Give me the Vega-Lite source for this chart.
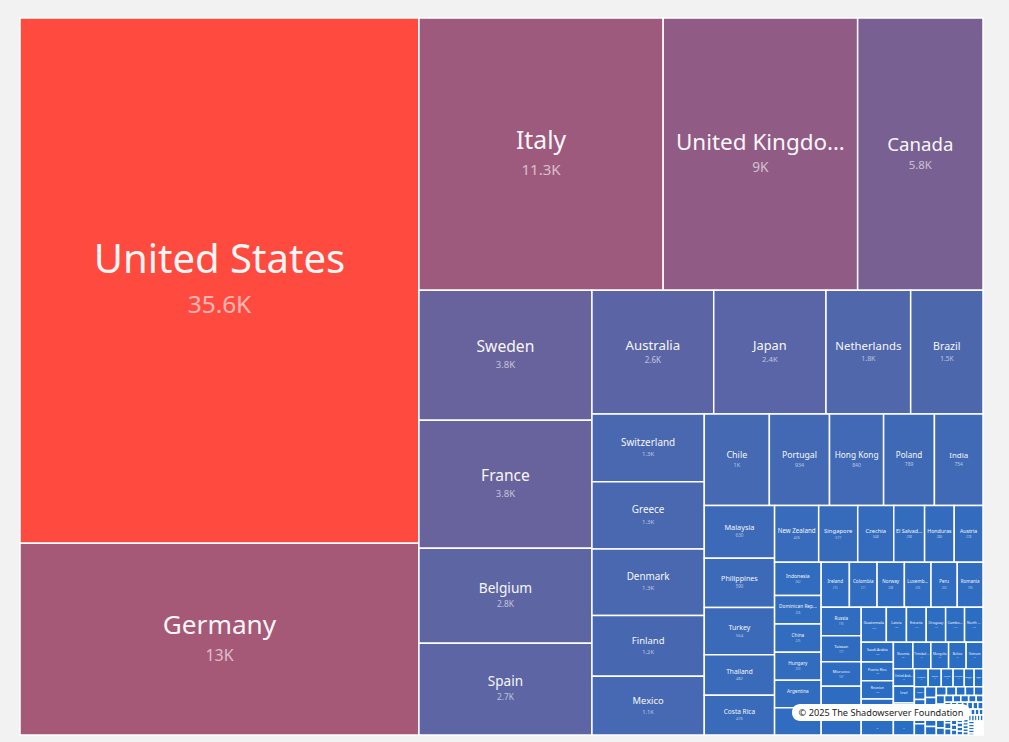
{
  "$schema": "https://vega.github.io/schema/vega-lite/v6.json",
  "width": 963,
  "height": 717,
  "autosize": {"type": "none"},
  "padding": {"left": 20, "top": 18, "right": 26, "bottom": 7},
  "background": "#f2f2f2",
  "config": {"view": {"stroke": null}, "font": "Noto Sans"},
  "layer": [
    {
      "data": {"values": [
        {"country": "United States", "value": 35600, "strip": 1, "dir": "col"},
        {"country": "Germany", "value": 13000, "strip": 1, "dir": "col"},
        {"country": "Italy", "value": 11300, "strip": 2, "dir": "row"},
        {"country": "United Kingdom", "value": 9000, "strip": 2, "dir": "row"},
        {"country": "Canada", "value": 5800, "strip": 2, "dir": "row"},
        {"country": "Sweden", "value": 3820, "strip": 3, "dir": "col"},
        {"country": "France", "value": 3760, "strip": 3, "dir": "col"},
        {"country": "Belgium", "value": 2790, "strip": 3, "dir": "col"},
        {"country": "Spain", "value": 2700, "strip": 3, "dir": "col"},
        {"country": "Australia", "value": 2560, "strip": 4, "dir": "row"},
        {"country": "Japan", "value": 2360, "strip": 4, "dir": "row"},
        {"country": "Netherlands", "value": 1780, "strip": 4, "dir": "row"},
        {"country": "Brazil", "value": 1520, "strip": 4, "dir": "row"},
        {"country": "Switzerland", "value": 1294, "strip": 5, "dir": "col"},
        {"country": "Greece", "value": 1280, "strip": 5, "dir": "col"},
        {"country": "Denmark", "value": 1270, "strip": 5, "dir": "col"},
        {"country": "Finland", "value": 1160, "strip": 5, "dir": "col"},
        {"country": "Mexico", "value": 1122, "strip": 5, "dir": "col"},
        {"country": "Chile", "value": 1010, "strip": 6, "dir": "row"},
        {"country": "Portugal", "value": 934, "strip": 6, "dir": "row"},
        {"country": "Hong Kong", "value": 840, "strip": 6, "dir": "row"},
        {"country": "Poland", "value": 789, "strip": 6, "dir": "row"},
        {"country": "India", "value": 754, "strip": 6, "dir": "row"},
        {"country": "Malaysia", "value": 630, "strip": 7, "dir": "col"},
        {"country": "Philippines", "value": 590, "strip": 7, "dir": "col"},
        {"country": "Turkey", "value": 564, "strip": 7, "dir": "col"},
        {"country": "Thailand", "value": 482, "strip": 7, "dir": "col"},
        {"country": "Costa Rica", "value": 476, "strip": 7, "dir": "col"},
        {"country": "New Zealand", "value": 426, "strip": 8, "dir": "row"},
        {"country": "Singapore", "value": 377, "strip": 8, "dir": "row"},
        {"country": "Czechia", "value": 348, "strip": 8, "dir": "row"},
        {"country": "El Salvador", "value": 298, "strip": 8, "dir": "row"},
        {"country": "Honduras", "value": 286, "strip": 8, "dir": "row"},
        {"country": "Austria", "value": 278, "strip": 8, "dir": "row"},
        {"country": "Indonesia", "value": 262, "strip": 9, "dir": "col"},
        {"country": "Dominican Republic", "value": 226, "strip": 9, "dir": "col"},
        {"country": "China", "value": 225, "strip": 9, "dir": "col"},
        {"country": "Hungary", "value": 220, "strip": 9, "dir": "col"},
        {"country": "Argentina", "value": 218, "strip": 9, "dir": "col"},
        {"country": "Cyprus", "value": 216, "strip": 9, "dir": "col"},
        {"country": "Ireland", "value": 215, "strip": 10, "dir": "row"},
        {"country": "Colombia", "value": 211, "strip": 10, "dir": "row"},
        {"country": "Norway", "value": 208, "strip": 10, "dir": "row"},
        {"country": "Luxembourg", "value": 203, "strip": 10, "dir": "row"},
        {"country": "Peru", "value": 200, "strip": 10, "dir": "row"},
        {"country": "Romania", "value": 196, "strip": 10, "dir": "row"},
        {"country": "Russia", "value": 195, "strip": 11, "dir": "col"},
        {"country": "Taiwan", "value": 177, "strip": 11, "dir": "col"},
        {"country": "Morocco", "value": 167, "strip": 11, "dir": "col"},
        {"country": "South Africa", "value": 166, "strip": 11, "dir": "col"},
        {"country": "Venezuela", "value": 165, "strip": 11, "dir": "col"},
        {"country": "Guatemala", "value": 150, "strip": 12, "dir": "row"},
        {"country": "Latvia", "value": 120, "strip": 12, "dir": "row"},
        {"country": "Estonia", "value": 118, "strip": 12, "dir": "row"},
        {"country": "Uruguay", "value": 116, "strip": 12, "dir": "row"},
        {"country": "Cambodia", "value": 113, "strip": 12, "dir": "row"},
        {"country": "North Macedonia", "value": 110, "strip": 12, "dir": "row"},
        {"country": "Saudi Arabia", "value": 108, "strip": 13, "dir": "col"},
        {"country": "Puerto Rico", "value": 102, "strip": 13, "dir": "col"},
        {"country": "Reunion", "value": 100, "strip": 13, "dir": "col"},
        {"country": "Kenya", "value": 99, "strip": 13, "dir": "col"},
        {"country": "Panama", "value": 98, "strip": 13, "dir": "col"},
        {"country": "Slovenia", "value": 88, "strip": 14, "dir": "row"},
        {"country": "Trinidad and Tobago", "value": 81, "strip": 14, "dir": "row"},
        {"country": "Mongolia", "value": 80, "strip": 14, "dir": "row"},
        {"country": "Bolivia", "value": 79, "strip": 14, "dir": "row"},
        {"country": "Vietnam", "value": 76, "strip": 14, "dir": "row"},
        {"country": "United Arab Emirates", "value": 62, "strip": 15, "dir": "col"},
        {"country": "Israel", "value": 60, "strip": 15, "dir": "col"},
        {"country": "Qatar", "value": 58, "strip": 15, "dir": "col"},
        {"country": "Mauritius", "value": 56, "strip": 15, "dir": "col"},
        {"country": "Nigeria", "value": 42, "strip": 16, "dir": "row"},
        {"country": "Egypt", "value": 40, "strip": 16, "dir": "row"},
        {"country": "Jordan", "value": 36, "strip": 16, "dir": "row"},
        {"country": "Pakistan", "value": 34, "strip": 16, "dir": "row"},
        {"country": "Bangladesh", "value": 30, "strip": 16, "dir": "row"},
        {"country": "Malta", "value": 27, "strip": 16, "dir": "row"},
        {"country": "Iceland", "value": 24, "strip": 17, "dir": "col"},
        {"country": "Georgia", "value": 23, "strip": 17, "dir": "col"},
        {"country": "Serbia", "value": 22, "strip": 17, "dir": "col"},
        {"country": "Croatia", "value": 21, "strip": 17, "dir": "col"},
        {"country": "Bulgaria", "value": 20, "strip": 18, "dir": "col"},
        {"country": "Lebanon", "value": 19, "strip": 18, "dir": "col"},
        {"country": "Kazakhstan", "value": 18, "strip": 18, "dir": "col"},
        {"country": "Ukraine", "value": 17, "strip": 18, "dir": "col"},
        {"country": "Ecuador", "value": 16, "strip": 18, "dir": "col"},
        {"country": "Paraguay", "value": 15, "strip": 19, "dir": "row"},
        {"country": "Sri Lanka", "value": 14, "strip": 19, "dir": "row"},
        {"country": "Kuwait", "value": 14, "strip": 19, "dir": "row"},
        {"country": "Oman", "value": 13, "strip": 19, "dir": "row"},
        {"country": "Bahrain", "value": 13, "strip": 19, "dir": "row"},
        {"country": "Jamaica", "value": 12, "strip": 20, "dir": "col"},
        {"country": "Armenia", "value": 12, "strip": 20, "dir": "col"},
        {"country": "Moldova", "value": 11, "strip": 20, "dir": "col"},
        {"country": "Albania", "value": 11, "strip": 20, "dir": "col"},
        {"country": "Tunisia", "value": 10, "strip": 20, "dir": "col"},
        {"country": "Nepal", "value": 10, "strip": 21, "dir": "row"},
        {"country": "Ghana", "value": 9, "strip": 21, "dir": "row"},
        {"country": "Macao", "value": 9, "strip": 21, "dir": "row"},
        {"country": "Kosovo", "value": 9, "strip": 21, "dir": "row"},
        {"country": "Cuba", "value": 8, "strip": 21, "dir": "row"},
        {"country": "Algeria", "value": 8, "strip": 22, "dir": "col"},
        {"country": "Iraq", "value": 8, "strip": 22, "dir": "col"},
        {"country": "Azerbaijan", "value": 7, "strip": 22, "dir": "col"},
        {"country": "Belarus", "value": 7, "strip": 22, "dir": "col"},
        {"country": "Senegal", "value": 7, "strip": 22, "dir": "col"},
        {"country": "Namibia", "value": 7, "strip": 23, "dir": "row"},
        {"country": "Barbados", "value": 6, "strip": 23, "dir": "row"},
        {"country": "Bahamas", "value": 6, "strip": 23, "dir": "row"},
        {"country": "Brunei", "value": 6, "strip": 23, "dir": "row"},
        {"country": "Zambia", "value": 6, "strip": 23, "dir": "row"},
        {"country": "Botswana", "value": 6, "strip": 23, "dir": "row"},
        {"country": "Uganda", "value": 5, "strip": 24, "dir": "col"},
        {"country": "Tanzania", "value": 5, "strip": 24, "dir": "col"},
        {"country": "Fiji", "value": 5, "strip": 24, "dir": "col"},
        {"country": "Laos", "value": 5, "strip": 24, "dir": "col"},
        {"country": "Myanmar", "value": 5, "strip": 24, "dir": "col"},
        {"country": "Iran", "value": 5, "strip": 25, "dir": "col"},
        {"country": "Libya", "value": 5, "strip": 25, "dir": "col"},
        {"country": "Monaco", "value": 4, "strip": 25, "dir": "col"},
        {"country": "Andorra", "value": 4, "strip": 25, "dir": "col"},
        {"country": "Guam", "value": 4, "strip": 25, "dir": "col"},
        {"country": "Aruba", "value": 4, "strip": 25, "dir": "col"},
        {"country": "Bermuda", "value": 4, "strip": 26, "dir": "row"},
        {"country": "Gibraltar", "value": 4, "strip": 26, "dir": "row"},
        {"country": "Jersey", "value": 4, "strip": 26, "dir": "row"},
        {"country": "Guernsey", "value": 4, "strip": 26, "dir": "row"},
        {"country": "Greenland", "value": 4, "strip": 26, "dir": "row"},
        {"country": "Liechtenstein", "value": 4, "strip": 27, "dir": "col"},
        {"country": "Curaçao", "value": 3, "strip": 27, "dir": "col"},
        {"country": "Haiti", "value": 3, "strip": 27, "dir": "col"},
        {"country": "Sudan", "value": 3, "strip": 27, "dir": "col"},
        {"country": "Syria", "value": 3, "strip": 27, "dir": "col"},
        {"country": "Yemen", "value": 3, "strip": 27, "dir": "col"},
        {"country": "Mali", "value": 3, "strip": 28, "dir": "row"},
        {"country": "Niger", "value": 3, "strip": 28, "dir": "row"},
        {"country": "Benin", "value": 3, "strip": 28, "dir": "row"},
        {"country": "Togo", "value": 3, "strip": 28, "dir": "row"},
        {"country": "Gabon", "value": 3, "strip": 28, "dir": "row"},
        {"country": "Angola", "value": 3, "strip": 29, "dir": "col"},
        {"country": "Rwanda", "value": 3, "strip": 29, "dir": "col"},
        {"country": "Malawi", "value": 3, "strip": 29, "dir": "col"},
        {"country": "Somalia", "value": 3, "strip": 29, "dir": "col"},
        {"country": "Belize", "value": 2, "strip": 29, "dir": "col"},
        {"country": "Guyana", "value": 2, "strip": 30, "dir": "row"},
        {"country": "Suriname", "value": 2, "strip": 30, "dir": "row"},
        {"country": "Bhutan", "value": 2, "strip": 30, "dir": "row"},
        {"country": "Maldives", "value": 2, "strip": 30, "dir": "row"},
        {"country": "Seychelles", "value": 2, "strip": 30, "dir": "row"},
        {"country": "Cameroon", "value": 2, "strip": 30, "dir": "row"},
        {"country": "Ethiopia", "value": 2, "strip": 31, "dir": "col"},
        {"country": "Zimbabwe", "value": 2, "strip": 31, "dir": "col"},
        {"country": "Mozambique", "value": 1, "strip": 31, "dir": "col"},
        {"country": "Madagascar", "value": 1, "strip": 31, "dir": "col"},
        {"country": "Nicaragua", "value": 1, "strip": 31, "dir": "col"},
        {"country": "Afghanistan", "value": 1, "strip": 31, "dir": "col"}
      ]},
      "transform": [
        {"joinaggregate": [{"op": "sum", "field": "value", "as": "total"}]},
        {"calculate": "datum.value / datum.total * 963 / 717", "as": "area"},
        {"joinaggregate": [{"op": "sum", "field": "area", "as": "S"}, {"op": "count", "as": "n"}], "groupby": ["strip"]},
        {"window": [{"op": "sum", "field": "area", "as": "cumIn"}], "groupby": ["strip"], "sort": [{"field": "value", "order": "descending"}, {"field": "country", "order": "ascending"}], "frame": [null, 0]},
        {"window": [{"op": "sum", "field": "area", "as": "cumS"}], "sort": [{"field": "strip", "order": "ascending"}], "frame": [null, 0]},
        {"calculate": "963 / 717 - datum.cumS + datum.S", "as": "R"},
        {"calculate": "datum.dir == 'row' && (datum.R - datum.S) > 1e-9 ? log((datum.R - datum.S) / datum.R) / datum.n : 0", "as": "lr"},
        {"window": [{"op": "sum", "field": "lr", "as": "cumLr"}], "sort": [{"field": "strip", "order": "ascending"}], "frame": [null, 0]},
        {"calculate": "exp(datum.cumLr - datum.lr * datum.n)", "as": "h"},
        {"calculate": "datum.R / datum.h", "as": "w"},
        {"calculate": "963 / 717 - datum.w", "as": "sx"},
        {"calculate": "1 - datum.h", "as": "sy"},
        {"calculate": "datum.dir == 'col' ? datum.S / datum.h : datum.S / datum.w", "as": "t"},
        {"calculate": "datum.dir == 'col' ? datum.sx : datum.sx + (datum.cumIn - datum.area) / datum.t", "as": "x0"},
        {"calculate": "datum.dir == 'col' ? datum.sx + datum.t : datum.sx + datum.cumIn / datum.t", "as": "x1"},
        {"calculate": "datum.dir == 'col' ? datum.sy + (datum.cumIn - datum.area) / datum.t : datum.sy", "as": "y0"},
        {"calculate": "datum.dir == 'col' ? datum.sy + datum.cumIn / datum.t : datum.sy + datum.t", "as": "y1"},
        {"calculate": "40 * pow(datum.value / 35600, 0.42)", "as": "fs"},
        {"calculate": "0.61 * datum.fs", "as": "fs2"},
        {"calculate": "(datum.x0 + datum.x1) / 2", "as": "cx"},
        {"calculate": "(datum.y0 + datum.y1) / 2 - 0.5 * datum.fs / 717", "as": "ny"},
        {"calculate": "(datum.y0 + datum.y1) / 2 + 0.63 * datum.fs / 717", "as": "vy"},
        {"calculate": "(datum.x1 - datum.x0) * 717", "as": "wpx"},
        {"calculate": "datum.value >= 1000 ? format(datum.value / 1000, '.1~f') + 'K' : format(datum.value, 'd')", "as": "vlabel"}
      ],
      "layer": [
        {
          "mark": {"type": "rect", "stroke": "white", "strokeWidth": 1.5},
          "encoding": {
            "x": {"field": "x0", "type": "quantitative", "scale": {"domain": [0, 1.343096], "nice": false, "zero": false}, "axis": null},
            "x2": {"field": "x1"},
            "y": {"field": "y0", "type": "quantitative", "scale": {"domain": [0, 1], "nice": false, "zero": false, "reverse": true}, "axis": null},
            "y2": {"field": "y1"},
            "color": {"field": "value", "type": "quantitative", "scale": {"type": "sqrt", "domain": [0, 35600], "range": ["#1f6fca", "#ff4a40"], "interpolate": "rgb"}, "legend": null},
            "tooltip": [{"field": "country", "type": "nominal"}, {"field": "value", "type": "quantitative"}]
          }
        },
        {
          "transform": [{"filter": "datum.fs >= 1.8 && !(datum.cx > 1.07 && datum.cx < 1.33 && datum.ny > 0.945 && datum.ny < 0.99)"}],
          "mark": {"type": "text", "color": "white", "opacity": 0.95, "align": "center", "baseline": "middle", "limit": {"expr": "0.87 * datum.wpx"}, "ellipsis": "…"},
          "encoding": {
            "x": {"field": "cx", "type": "quantitative", "scale": {"domain": [0, 1.343096], "nice": false, "zero": false}, "axis": null},
            "y": {"field": "ny", "type": "quantitative", "scale": {"domain": [0, 1], "nice": false, "zero": false, "reverse": true}, "axis": null},
            "text": {"field": "country"},
            "size": {"field": "fs", "type": "quantitative", "scale": null}
          }
        },
        {
          "transform": [{"filter": "datum.fs >= 1.8 && !(datum.cx > 1.07 && datum.cx < 1.33 && datum.vy > 0.945 && datum.vy < 0.99)"}],
          "mark": {"type": "text", "color": "white", "opacity": 0.6, "align": "center", "baseline": "middle"},
          "encoding": {
            "x": {"field": "cx", "type": "quantitative", "scale": {"domain": [0, 1.343096], "nice": false, "zero": false}, "axis": null},
            "y": {"field": "vy", "type": "quantitative", "scale": {"domain": [0, 1], "nice": false, "zero": false, "reverse": true}, "axis": null},
            "text": {"field": "vlabel"},
            "size": {"field": "fs2", "type": "quantitative", "scale": null}
          }
        }
      ]
    },
    {
      "data": {"values": [{"note": "© 2025 The Shadowserver Foundation"}]},
      "layer": [
        {
          "mark": {"type": "rect", "fill": "white", "cornerRadius": 8},
          "encoding": {
            "x": {"datum": 1.0767, "type": "quantitative", "scale": {"domain": [0, 1.343096], "nice": false, "zero": false}, "axis": null},
            "x2": {"datum": 1.325},
            "y": {"datum": 0.9568, "type": "quantitative", "scale": {"domain": [0, 1], "nice": false, "zero": false, "reverse": true}, "axis": null},
            "y2": {"datum": 0.9805}
          }
        },
        {
          "mark": {"type": "text", "color": "#222222", "fontSize": 9.2, "align": "center", "baseline": "middle"},
          "encoding": {
            "x": {"datum": 1.2008, "type": "quantitative", "scale": {"domain": [0, 1.343096], "nice": false, "zero": false}, "axis": null},
            "y": {"datum": 0.969, "type": "quantitative", "scale": {"domain": [0, 1], "nice": false, "zero": false, "reverse": true}, "axis": null},
            "text": {"field": "note"}
          }
        }
      ]
    }
  ]
}
